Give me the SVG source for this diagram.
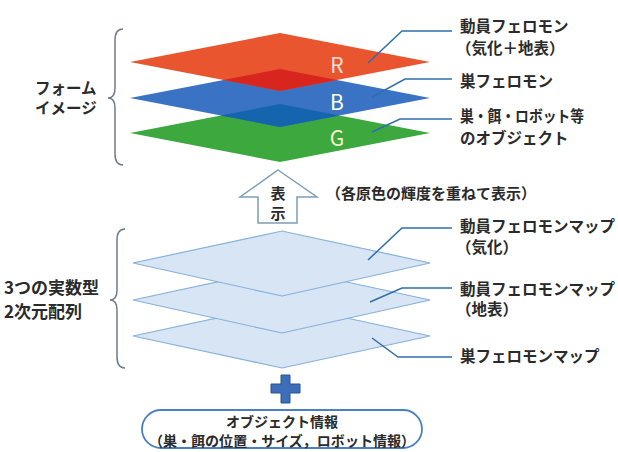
<svg xmlns="http://www.w3.org/2000/svg" width="618" height="452" viewBox="0 0 618 452">
<style>
text{font-family:"Noto Sans CJK JP","Liberation Sans",sans-serif;font-weight:bold;fill:#2a2a2a;dominant-baseline:central}
.lbl{font-size:15.5px}
.lead{fill:none;stroke:#2f6fae;stroke-width:1.5}
.brace{fill:none;stroke:#6e7b88;stroke-width:1.5}
.map{fill:#d7e5f4;stroke:#86b0dc;stroke-width:1.2}
.let{font-size:21px;font-weight:normal;fill:#fff;text-anchor:middle}
</style>
<rect width="618" height="452" fill="#fff"/>
<g id="form-brace">
<path class="brace" d="M123,29 Q115,29 115,40 L115,88 Q115,98 108,98 Q115,98 115,108 L115,154 Q115,165 123,165"/>
<text class="lbl" x="35" y="87">フォーム</text>
<text class="lbl" x="35" y="107">イメージ</text>
</g>
<g id="layer-G">
<polygon points="130,133 280,104 430,133 280,162" fill="#3ca83e"/>
</g>
<g id="layer-B">
<polygon points="130,98 280,69 430,98 280,127" fill="#3a73c4"/>
<polygon points="220.5,115.5 280,104 339.5,115.5 280,127" fill="#1565ae"/>
</g>
<g id="layer-R">
<polygon points="130,62 280,33 430,62 280,91" fill="#e9552f"/>
<polygon points="223,80 280,69 337,80 280,91" fill="#d8261f"/>
</g>
<text class="let" x="337" y="64" style="fill:#fbe0d8">R</text>
<text class="let" x="337" y="101">B</text>
<text class="let" x="337" y="137" style="fill:#f4f7c8">G</text>
<g id="labels-top">
<text class="lbl" x="460" y="25">動員フェロモン</text>
<text class="lbl" x="456" y="47">（気化＋地表）</text>
<text class="lbl" x="460" y="80">巣フェロモン</text>
<text class="lbl" x="460" y="115" textLength="124" lengthAdjust="spacingAndGlyphs">巣・餌・ロボット等</text>
<text class="lbl" x="460" y="137">のオブジェクト</text>
</g>
<g id="display-arrow">
<polygon points="278,170 317,197 297,197 297,223 258,223 258,197 240,197" fill="#fff" stroke="#7e9db8" stroke-width="1.5"/>
<text x="278" y="192" font-size="15" text-anchor="middle">表</text>
<text x="278" y="212" font-size="15" text-anchor="middle">示</text>
<text x="326" y="192" font-size="15">（各原色の輝度を重ねて表示）</text>
</g>
<g id="array-brace">
<path class="brace" d="M125,229 Q117,229 117,240 L117,290 Q117,300 110,300 Q117,300 117,310 L117,357 Q117,368 125,368"/>
<text x="4" y="286" font-size="17">3つの実数型</text>
<text x="4" y="310" font-size="17">2次元配列</text>
</g>
<g id="map-nest">
<polygon class="map" points="133,336 282,304 430,336 282,368"/>
</g>
<g id="map-ground">
<polygon class="map" points="133,300 282,268 430,300 282,333"/>
</g>
<g id="map-air">
<polygon class="map" points="133,263 282,231 430,263 282,296"/>
</g>
<g id="labels-bottom">
<text class="lbl" x="460" y="225">動員フェロモンマップ</text>
<text class="lbl" x="456" y="246">（気化）</text>
<text class="lbl" x="460" y="288">動員フェロモンマップ</text>
<text class="lbl" x="456" y="308">（地表）</text>
<text class="lbl" x="460" y="355">巣フェロモンマップ</text>
</g>
<g id="connectors">
<polyline class="lead" points="368,63 402,31 452,31"/>
<polyline class="lead" points="372,97 405,79 452,79"/>
<polyline class="lead" points="372,132 400,119 452,119"/>
<polyline class="lead" points="368,260 402,228 452,228"/>
<polyline class="lead" points="370,302 402,288 452,288"/>
<polyline class="lead" points="372,338 398,357 452,357"/>
</g>
<g id="plus">
<path d="M281,375 H290 V384 H300 V393 H290 V403 H281 V393 H271 V384 H281 Z" fill="#3d6fb8" stroke="#2a5290" stroke-width="1"/>
</g>
<g id="object-info">
<rect x="142" y="410" width="280" height="38" rx="19" fill="#fff" stroke="#4a80c2" stroke-width="1.8"/>
<text x="282" y="421" font-size="14" text-anchor="middle">オブジェクト情報</text>
<text x="282" y="440" font-size="14" text-anchor="middle" textLength="266" lengthAdjust="spacingAndGlyphs">（巣・餌の位置・サイズ，ロボット情報）</text>
</g>
</svg>
